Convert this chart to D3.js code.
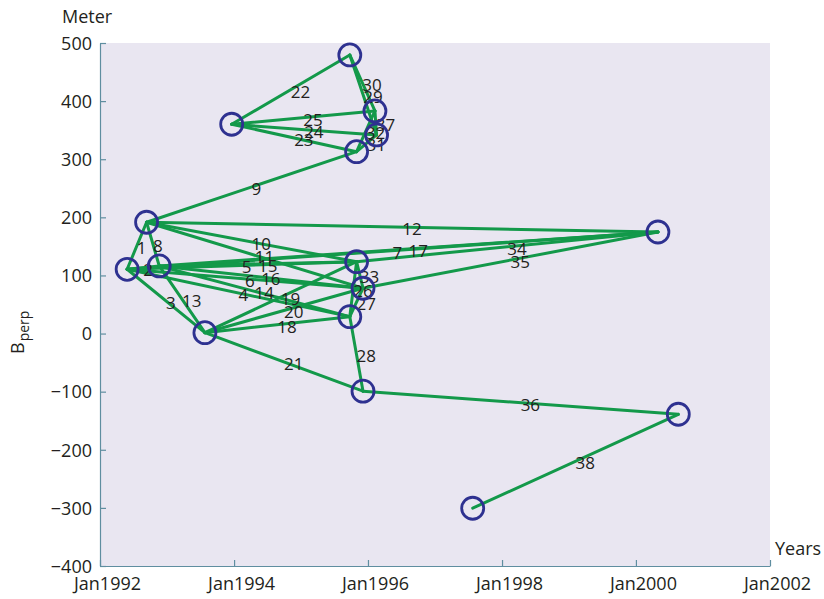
<!DOCTYPE html>
<html>
<head>
<meta charset="utf-8">
<script src="https://cdn.jsdelivr.net/npm/d3@7"></script>
<style>
  html, body { margin: 0; padding: 0; background: #ffffff; }
  svg { display: block; font-family: "Open Sans", "Noto Sans", sans-serif; }
</style>
</head>
<body>
<svg id="chart" width="824" height="599"></svg>
<script>
// ---- data ----
const sceneIds = ["A","B","C","D","E","L","F","I","J","K","M","G","H","P","N","O"];
const sceneDates = ["1992-05-28","1992-09-11","1992-11-19","1993-07-26","1993-12-19",
  "1995-09-24","1995-09-24","1995-10-31","1995-10-31","1995-12-05","1995-12-05",
  "1996-02-08","1996-02-17","1997-07-25","2000-04-30","2000-08-19"];
const sceneBperp = [110.6, 191.5, 116.3, 1.5, 360.2, 29.1, 479.4, 313.0, 123.7, 78.0, -99.1,
  383.1, 341.8, -300.6, 174.8, -138.9];

const edgeFrom = [0,0,0,0,0,0,0, 1,1,1,1,1, 2,2,2,2,2, 3,3,3,3, 4,4,4,4, 5,5,5, 6,6, 7,7, 8,8, 9, 10, 11, 13];
const edgeTo   = [1,2,3,5,8,9,14, 2,7,8,9,14, 3,5,8,9,14, 5,8,9,10, 6,7,12,11, 8,9,10, 12,11, 12,11, 9,14, 14, 15, 12, 15];
const edgeLabels = ["1","2","3","4","5","6","7","8","9","10","11","12","13","14","15","16","17",
  "18","19","20","21","22","23","24","25","26","27","28","29","30","31","32","33","34","35","36","37","38"];

const yTicks = [500,400,300,200,100,0,-100,-200,-300,-400];
const xTickDates = ["1992-01-01","1994-01-01","1996-01-01","1998-01-01","2000-01-01","2002-01-01"];
const xTickLabels = ["Jan1992","Jan1994","Jan1996","Jan1998","Jan2000","Jan2002"];

// ---- layout ----
const svg = d3.select("#chart");
const L = 100, R = 770, T = 43, B = 566;
const parse = d3.utcParse("%Y-%m-%d");
const x = d3.scaleUtc().domain([parse("1992-01-01"), parse("2002-01-01")]).range([L, R]);
const y = d3.scaleLinear().domain([-400, 500]).range([B, T]);

const axisColor = "#5f8ea0";
const textColor = "#231f20";
const lineColor = "#13994a";
const circleColor = "#2e3190";

svg.append("rect").attr("x", L).attr("y", T).attr("width", R - L).attr("height", B - T)
  .attr("fill", "#e9e6f1");

// axes
const gy = svg.append("g").attr("transform", `translate(${L},0)`)
  .call(d3.axisLeft(y).tickValues(yTicks).tickSize(-6).tickSizeOuter(0).tickPadding(8).tickFormat(d3.format("d")));
const gx = svg.append("g").attr("transform", `translate(0,${B})`)
  .call(d3.axisBottom(x).tickValues(xTickDates.map(parse)).tickSize(-6).tickSizeOuter(0)
    .tickFormat((d, i) => xTickLabels[i]));
[gy, gx].forEach(g => {
  g.select(".domain").attr("stroke", axisColor).attr("stroke-width", 1.2);
  g.selectAll(".tick line").attr("stroke", axisColor).attr("stroke-width", 1.2);
  g.selectAll(".tick text").attr("fill", textColor).attr("font-size", 18)
    .attr("font-family", "'Open Sans', 'Noto Sans', sans-serif");
});
gy.selectAll(".tick text").attr("dy", "0.35em");
gx.selectAll(".tick text").attr("y", 18).attr("dy", "0.35em").attr("dx", 7);

// axis titles
svg.append("text").attr("x", 62).attr("y", 17).attr("dy", "0.35em")
  .attr("font-size", 18).attr("fill", textColor).text("Meter");
svg.append("text").attr("x", 775).attr("y", 549).attr("dy", "0.35em")
  .attr("font-size", 18).attr("fill", textColor).text("Years");
const yt = svg.append("text").attr("transform", "translate(24,354) rotate(-90)")
  .attr("font-size", 18).attr("fill", textColor);
yt.append("tspan").text("B");
yt.append("tspan").attr("font-size", 14).attr("dy", 5).attr("dx", 1).text("perp");

// scenes
const scenes = sceneIds.map((id, i) => ({ id, date: parse(sceneDates[i]), b: sceneBperp[i] }));
const edges = edgeFrom.map((f, i) => ({ s: scenes[f], t: scenes[edgeTo[i]], label: edgeLabels[i] }));

// lines
svg.append("g").selectAll("line").data(edges).join("line")
  .attr("x1", d => x(d.s.date)).attr("y1", d => y(d.s.b))
  .attr("x2", d => x(d.t.date)).attr("y2", d => y(d.t.b))
  .attr("stroke", lineColor).attr("stroke-width", 3).attr("stroke-linecap", "round");

// labels at midpoints
svg.append("g").selectAll("text").data(edges).join("text")
  .attr("x", d => (x(d.s.date) + x(d.t.date)) / 2)
  .attr("y", d => (y(d.s.b) + y(d.t.b)) / 2 + 2)
  .attr("dy", "0.35em")
  .attr("font-size", 17).attr("fill", textColor)
  .text(d => d.label);

// circles
svg.append("g").selectAll("circle").data(scenes).join("circle")
  .attr("cx", d => x(d.date)).attr("cy", d => y(d.b)).attr("r", 11)
  .attr("fill", "none").attr("stroke", circleColor).attr("stroke-width", 2.8);
</script>
</body>
</html>
